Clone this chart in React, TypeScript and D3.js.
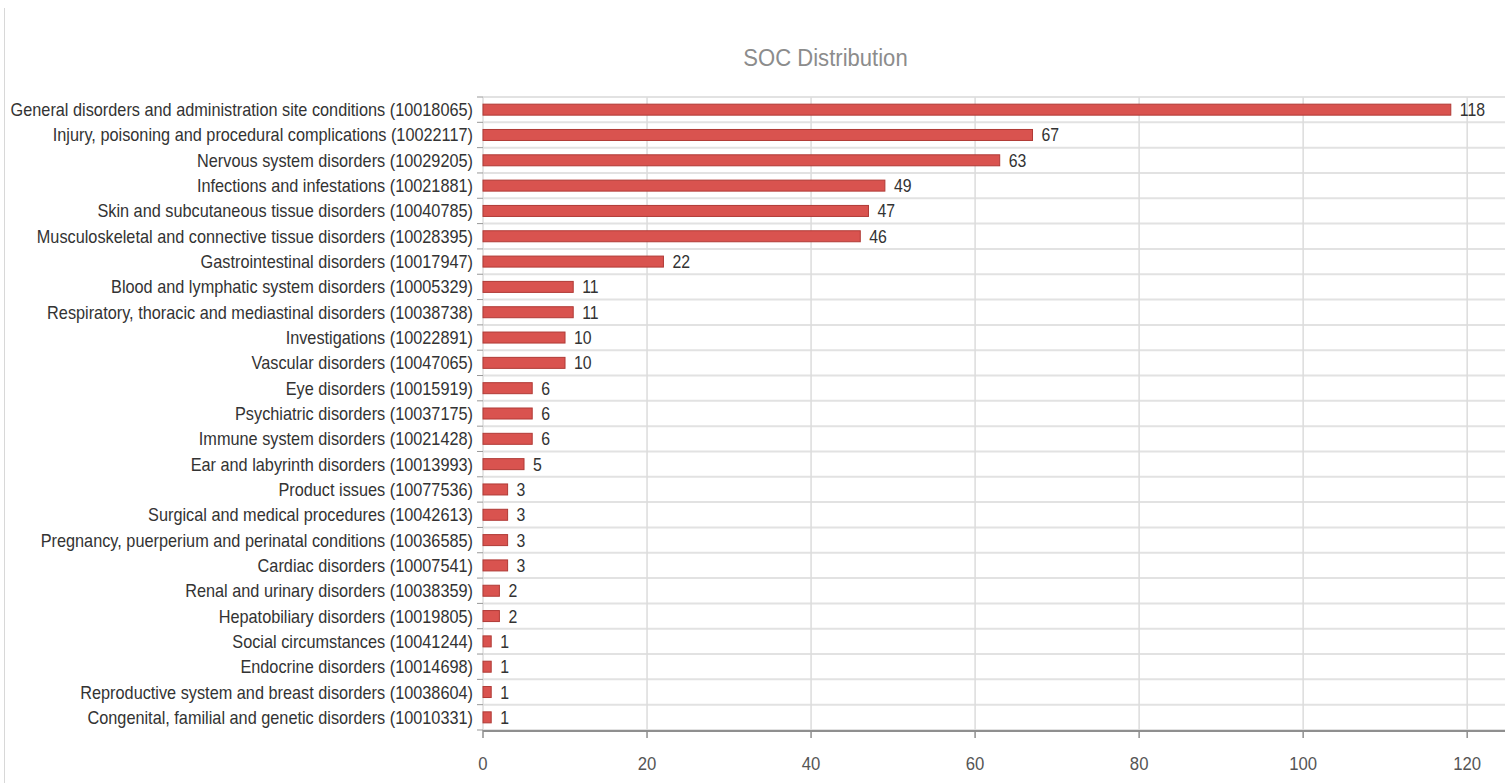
import React from "react";
import * as d3 from "d3";

const categories: string[] = [
  "General disorders and administration site conditions (10018065)",
  "Injury, poisoning and procedural complications (10022117)",
  "Nervous system disorders (10029205)",
  "Infections and infestations (10021881)",
  "Skin and subcutaneous tissue disorders (10040785)",
  "Musculoskeletal and connective tissue disorders (10028395)",
  "Gastrointestinal disorders (10017947)",
  "Blood and lymphatic system disorders (10005329)",
  "Respiratory, thoracic and mediastinal disorders (10038738)",
  "Investigations (10022891)",
  "Vascular disorders (10047065)",
  "Eye disorders (10015919)",
  "Psychiatric disorders (10037175)",
  "Immune system disorders (10021428)",
  "Ear and labyrinth disorders (10013993)",
  "Product issues (10077536)",
  "Surgical and medical procedures (10042613)",
  "Pregnancy, puerperium and perinatal conditions (10036585)",
  "Cardiac disorders (10007541)",
  "Renal and urinary disorders (10038359)",
  "Hepatobiliary disorders (10019805)",
  "Social circumstances (10041244)",
  "Endocrine disorders (10014698)",
  "Reproductive system and breast disorders (10038604)",
  "Congenital, familial and genetic disorders (10010331)",
];

const counts: number[] = [118, 67, 63, 49, 47, 46, 22, 11, 11, 10, 10, 6, 6, 6, 5, 3, 3, 3, 3, 2, 2, 1, 1, 1, 1];

const xTicks: number[] = [0, 20, 40, 60, 80, 100, 120];
const title = "SOC Distribution";

const W = 1505;
const H = 783;
const FONT = "Arial, 'Liberation Sans', Helvetica, sans-serif";
const SX = 0.905; // horizontal condensing of text

export default function App() {
  const left = 483;
  const top = 97;
  const bottom = 730;
  const x = d3.scaleLinear().domain([0, 124]).range([left, 1500]);
  const y = d3.scaleBand<string>().domain(categories).range([top, bottom]).padding(0);
  const bw = y.bandwidth();
  const barH = 11;
  const boundaries = d3.range(categories.length + 1).map((i) => top + i * bw);

  return (
    <div style={{ position: "absolute", left: 0, top: 0 }}>
      <svg width={W} height={H} style={{ display: "block", background: "#fff" }} fontFamily={FONT}>
        <line x1={4.5} x2={4.5} y1={8} y2={H} stroke="#d8d8d8" strokeWidth={1} />
        <g transform={`translate(${825.5},${66}) scale(${0.92},1)`}>
          <text textAnchor="middle" fontSize={24} fill="#8c8c8c">{title}</text>
        </g>
        {/* horizontal grid lines */}
        {boundaries.map((b, i) => (
          <line key={"h" + i} x1={left} x2={W} y1={b} y2={b} stroke="#e2e2e2" strokeWidth={2} />
        ))}
        {/* vertical grid lines */}
        {xTicks.map((t) => (
          <line key={"v" + t} x1={x(t)} x2={x(t)} y1={top} y2={bottom} stroke="#dcdcdc" strokeWidth={1.5} />
        ))}
        {/* category ticks */}
        {boundaries.map((b, i) => (
          <line key={"ct" + i} x1={477} x2={left} y1={b} y2={b} stroke="#999" strokeWidth={1} />
        ))}
        {/* bars */}
        {categories.map((c, i) => (
          <rect
            key={"b" + i}
            x={x(0)}
            y={(y(c) as number) + bw / 2 - barH / 2}
            width={x(counts[i]) - x(0)}
            height={barH}
            fill="#d9534f"
            stroke="#b03a36"
            strokeWidth={1}
          />
        ))}
        {/* value labels */}
        {categories.map((c, i) => (
          <g key={"vl" + i} transform={`translate(${x(counts[i]) + 9},${(y(c) as number) + bw / 2 + 6.5}) scale(${0.88},1)`}>
            <text fontSize={18} fill="#333">{counts[i]}</text>
          </g>
        ))}
        {/* category labels */}
        {categories.map((c, i) => (
          <g key={"cl" + i} transform={`translate(${473},${(y(c) as number) + bw / 2 + 6.5}) scale(${SX},1)`}>
            <text fontSize={18} fill="#333" textAnchor="end">{c}</text>
          </g>
        ))}
        {/* bottom axis */}
        <line x1={left} x2={W} y1={bottom + 1} y2={bottom + 1} stroke="#8f8f8f" strokeWidth={2} />
        {xTicks.map((t) => (
          <line key={"xt" + t} x1={x(t)} x2={x(t)} y1={bottom} y2={bottom + 8} stroke="#8f8f8f" strokeWidth={1.5} />
        ))}
        {xTicks.map((t) => (
          <g key={"xl" + t} transform={`translate(${x(t)},${770}) scale(${0.88},1)`}>
            <text fontSize={19} fill="#555" textAnchor="middle">{t}</text>
          </g>
        ))}
      </svg>
    </div>
  );
}
